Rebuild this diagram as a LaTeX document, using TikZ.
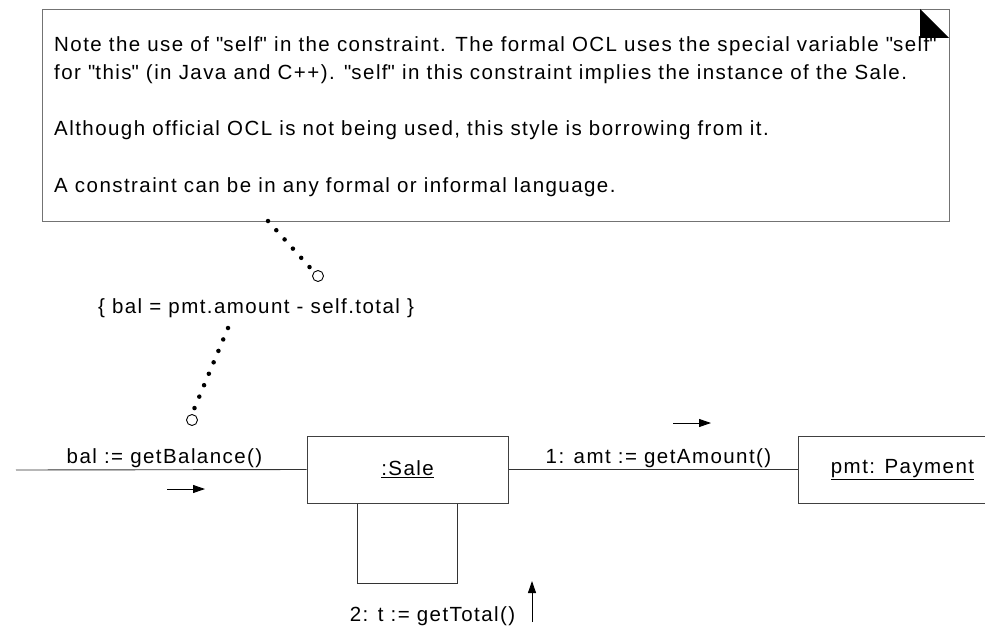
\documentclass[tikz,border=0pt]{standalone}
\usepackage{fontspec}
\setmainfont{Liberation Sans}[LetterSpace=7]
\usepackage{tikz}
\usetikzlibrary{arrows.meta,positioning,calc}
\newcommand{\qm}{\textquotedbl}
\tikzset{
  objbox/.style={draw=black!75, line width=1pt, fill=white, minimum height=67pt, inner sep=0pt},
  link/.style={draw=black!80, line width=0.9pt},
  dotline/.style={line width=4.5pt, line cap=round, dash pattern=on 0pt off 12.4pt},
  endcirc/.style={circle, draw=black, line width=0.9pt, fill=white, minimum size=11pt, inner sep=0pt},
  msgarrow/.style={line width=0.9pt, -{Triangle[length=12pt,width=8pt]}},
  lbl/.style={anchor=base, inner sep=0pt}
}
\begin{document}
\begin{tikzpicture}[x=1pt, y=-1pt, font=\fontsize{20.5}{22}\selectfont]
  \useasboundingbox (0,0) rectangle (985,626);
  % note box with folded corner
  \node[draw=black!55, line width=1pt, anchor=north west, minimum width=907pt, minimum height=212pt, inner sep=0pt] (note) at (42,9) {};
  \fill[black] (920,9) -- (920,38) -- (949,38) -- cycle;
  \node[anchor=base west, inner sep=0pt] (nline1) at (54,52) {Note the use of \qm self\qm{} in the constraint. The formal OCL uses the special variable \qm self\qm};
  \node[anchor=base west, inner sep=0pt] (nline2) at (54,79) {for \qm this\qm{} (in Java and C++). \qm self\qm{} in this constraint implies the instance of the Sale.};
  \node[anchor=base west, inner sep=0pt] (nline3) at (54,135) {Although official OCL is not being used, this style is borrowing from it.};
  \node[anchor=base west, inner sep=0pt] (nline4) at (54,192) {A constraint can be in any formal or informal language.};
  % constraint
  \node[lbl] (cons) at (256,313) {\{ bal = pmt.amount - self.total \}};
  \coordinate (nfoot) at (268,221);
  \coordinate (cfoot) at (228,328);
  \node[endcirc] (nend) at (318,276) {};
  \node[endcirc] (cend) at (192,420) {};
  \draw[dotline] (nfoot) -- (nend.north west);
  \draw[dotline] (cfoot) -- (cend.north);
  % objects
  \node[objbox, minimum width=201pt] (sale) at (407.5,469.5) {\underline{:Sale}};
  \node[objbox, minimum width=209pt] (pmt) at (902.5,469.5) {\underline{pmt: Payment}};
  \coordinate (actor) at (16,470);
  \draw[link] (actor) -- (sale.west);
  \draw[link] (sale.east) -- (pmt.west);
  \draw[link] ([xshift=-50pt]sale.south) -- ++(0,80) -| ([xshift=50pt]sale.south);
  % messages
  \node[lbl] (msg0) at (164.5,463) {bal := getBalance()};
  \node[lbl] (msg1) at (658.5,463) {1: amt := getAmount()};
  \node[lbl] (msg2) at (432.5,621) {2: t := getTotal()};
  \coordinate (a0s) at (167,489); \coordinate (a0e) at (205,489);
  \coordinate (a1s) at (673,423); \coordinate (a1e) at (711,423);
  \coordinate (a2s) at (532,622); \coordinate (a2e) at (532,581);
  \draw[msgarrow] (a0s) -- (a0e);
  \draw[msgarrow] (a1s) -- (a1e);
  \draw[msgarrow] (a2s) -- (a2e);
\end{tikzpicture}
\end{document}
